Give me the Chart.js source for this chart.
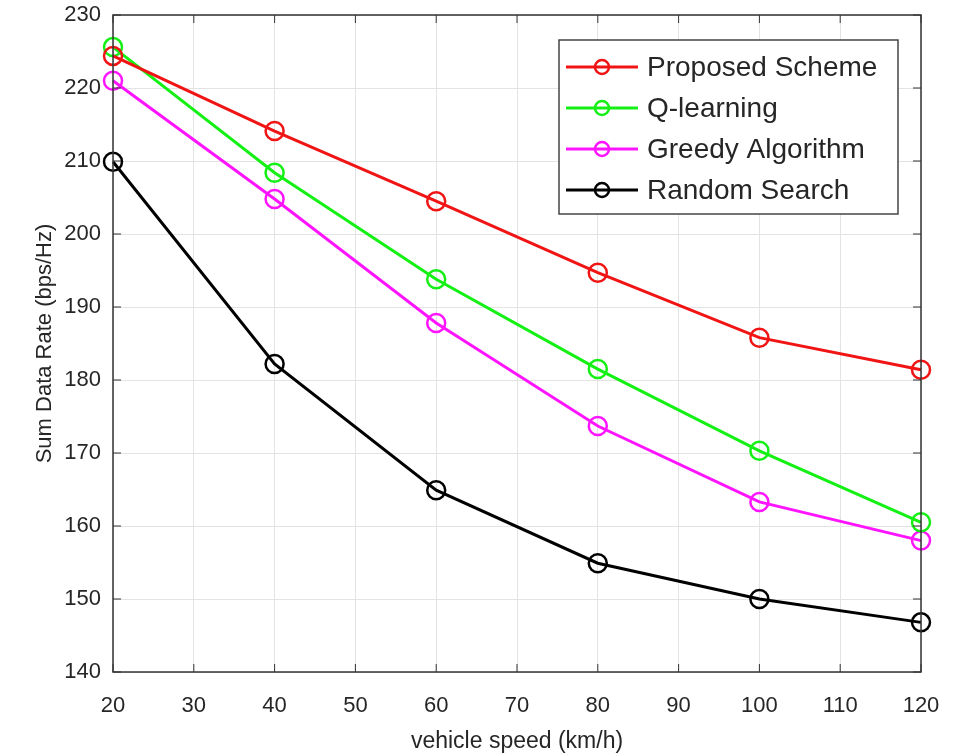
<!DOCTYPE html>
<html lang="en">
<head>
  <meta charset="UTF-8">
  <title>Sum Data Rate vs vehicle speed</title>
  <script src="https://cdn.jsdelivr.net/npm/chart.js"></script>
  <style>
    html, body { margin: 0; padding: 0; background: #fff; }
    #wrap { width: 964px; height: 754px; }
  </style>
</head>
<body>
<div id="wrap"><canvas id="chart-canvas" width="964" height="754"></canvas></div>

<script>
// data
const speeds = [20, 40, 60, 80, 100, 120];
const proposed = [224.4, 214.1, 204.5, 194.7, 185.8, 181.4];
const qLearning = [225.6, 208.4, 193.8, 181.5, 170.3, 160.5];
const greedy = [221.0, 204.8, 187.8, 173.7, 163.3, 158.0];
const randomSearch = [209.9, 182.2, 164.9, 154.9, 150.0, 146.8];
const seriesNames = ['Proposed Scheme', 'Q-learning', 'Greedy Algorithm', 'Random Search'];
const xTicks = [20, 30, 40, 50, 60, 70, 80, 90, 100, 110, 120];
const yTicks = [140, 150, 160, 170, 180, 190, 200, 210, 220, 230];

const colors = ['#f01414', '#14f014', '#ff14ff', '#000000'];
const allValues = [proposed, qLearning, greedy, randomSearch];
const textColor = '#262626';
const fontFamily = '"Liberation Sans", Arial, sans-serif';

function makeSet(i) {
  return {
    label: seriesNames[i],
    data: speeds.map((s, k) => ({ x: s, y: allValues[i][k] })),
    borderColor: colors[i],
    backgroundColor: 'rgba(0,0,0,0)',
    borderWidth: 3,
    pointRadius: 9,
    pointBorderWidth: 2.5,
    pointBackgroundColor: 'rgba(0,0,0,0)',
    pointBorderColor: colors[i],
    tension: 0,
    clip: false
  };
}

// box around plot + inward ticks + legend inside the axes, matlab style
const matlabBox = {
  id: 'matlabBox',
  afterDatasetsDraw(chart) {
    const { ctx, chartArea: a, scales } = chart;
    ctx.save();
    ctx.strokeStyle = '#333';
    ctx.lineWidth = 1.5;
    ctx.strokeRect(a.left, a.top, a.right - a.left, a.bottom - a.top);
    ctx.lineWidth = 1;
    xTicks.forEach(v => {
      const px = scales.x.getPixelForValue(v);
      ctx.beginPath();
      ctx.moveTo(px, a.bottom); ctx.lineTo(px, a.bottom - 8);
      ctx.moveTo(px, a.top); ctx.lineTo(px, a.top + 8);
      ctx.stroke();
    });
    yTicks.forEach(v => {
      const py = scales.y.getPixelForValue(v);
      ctx.beginPath();
      ctx.moveTo(a.left, py); ctx.lineTo(a.left + 8, py);
      ctx.moveTo(a.right, py); ctx.lineTo(a.right - 8, py);
      ctx.stroke();
    });

    // legend
    const lx = 559, ly = 40, lw = 339, lh = 174;
    ctx.fillStyle = '#fff';
    ctx.fillRect(lx, ly, lw, lh);
    ctx.strokeStyle = '#444';
    ctx.lineWidth = 1.5;
    ctx.strokeRect(lx, ly, lw, lh);
    ctx.font = '28px ' + fontFamily;
    ctx.textBaseline = 'middle';
    chart.data.datasets.forEach((ds, i) => {
      const y = ly + 27 + i * 41;
      ctx.strokeStyle = ds.borderColor;
      ctx.lineWidth = 3;
      ctx.beginPath();
      ctx.moveTo(lx + 7, y); ctx.lineTo(lx + 79, y);
      ctx.stroke();
      ctx.lineWidth = 2.5;
      ctx.beginPath();
      ctx.arc(lx + 43, y, 7, 0, Math.PI * 2);
      ctx.stroke();
      ctx.fillStyle = textColor;
      ctx.fillText(ds.label, lx + 88, y + 1);
    });
    ctx.restore();
  }
};

new Chart(document.getElementById('chart-canvas'), {
  type: 'line',
  data: { datasets: [0, 1, 2, 3].map(makeSet) },
  options: {
    responsive: false,
    animation: false,
    layout: { padding: { top: 15, right: 43, left: 28, bottom: 0 } },
    plugins: { legend: { display: false }, tooltip: { enabled: false } },
    scales: {
      x: {
        type: 'linear',
        min: 20, max: 120,
        afterBuildTicks: s => { s.ticks = xTicks.map(v => ({ value: v })); },
        afterFit: s => { s.height = 82; s.paddingRight = 0; s.paddingLeft = 0; },
        grid: { color: '#e3e3e3', drawTicks: false, lineWidth: 1 },
        border: { display: false },
        ticks: { color: textColor, font: { family: fontFamily, size: 22 }, padding: 21, maxRotation: 0 },
        title: { display: true, text: 'vehicle speed (km/h)', color: textColor, font: { family: fontFamily, size: 23 }, padding: { top: 2, bottom: -1 } }
      },
      y: {
        min: 140, max: 230,
        afterBuildTicks: s => { s.ticks = yTicks.map(v => ({ value: v })); },
        afterFit: s => { s.width = 85; s.paddingTop = 0; s.paddingBottom = 0; },
        grid: { color: '#e3e3e3', drawTicks: false, lineWidth: 1 },
        border: { display: false },
        ticks: { color: textColor, font: { family: fontFamily, size: 22 }, padding: 12 },
        title: { display: true, text: 'Sum Data Rate (bps/Hz)', color: textColor, font: { family: fontFamily, size: 22 }, padding: { bottom: 0 } }
      }
    }
  },
  plugins: [matlabBox]
});
</script>
</body>
</html>
